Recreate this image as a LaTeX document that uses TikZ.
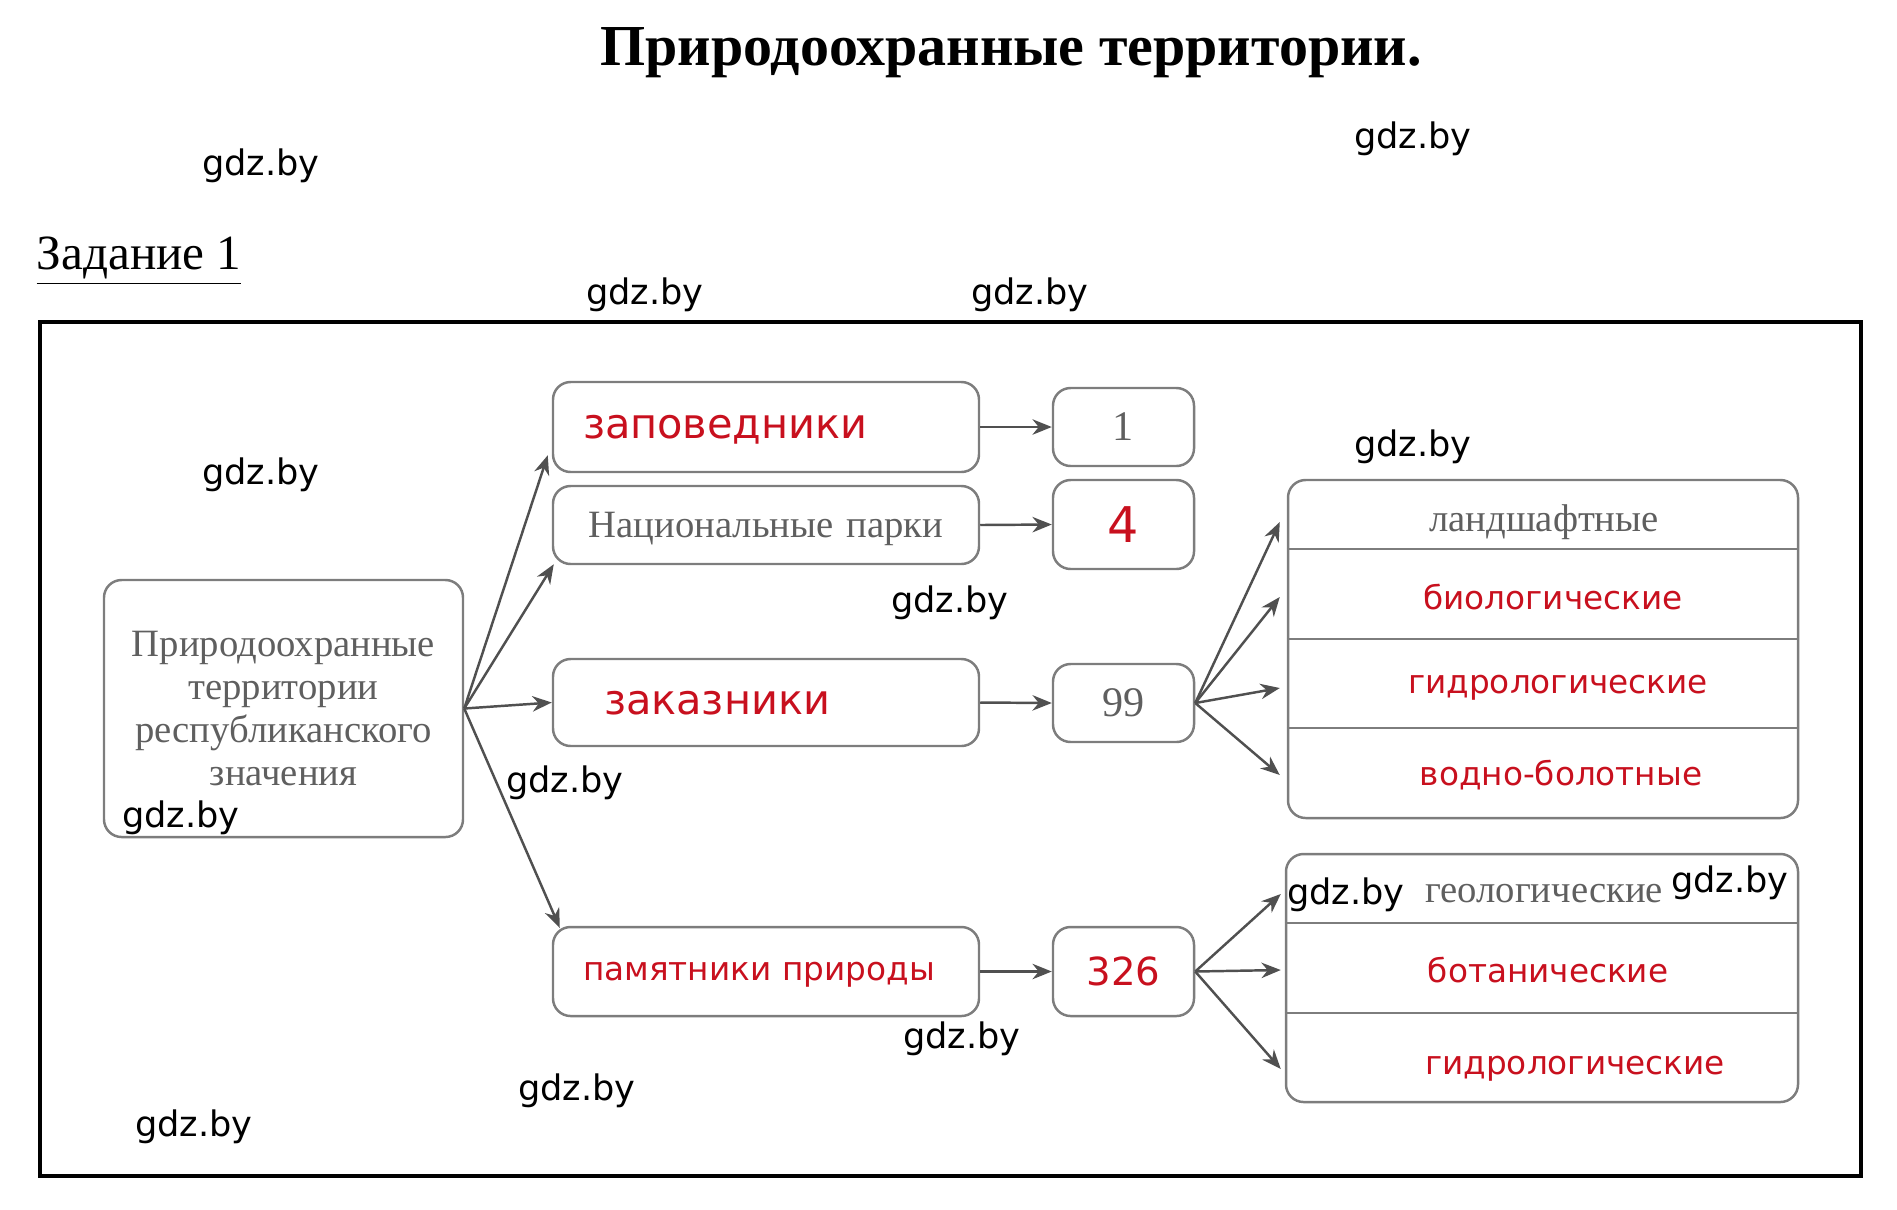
\documentclass[tikz,border=0pt]{standalone}
\usepackage{fontspec}
\setmainfont{Liberation Serif}
\newfontfamily\verdsans{DejaVu Sans}
\definecolor{resred}{RGB}{200, 16, 30}
\definecolor{boxgray}{RGB}{125, 125, 125}
\definecolor{txtgray}{RGB}{95, 95, 95}
\definecolor{arrgray}{RGB}{80, 80, 80}
\usetikzlibrary{arrows.meta, positioning, calc}

\begin{document}
\begin{tikzpicture}[
  box/.style={draw=boxgray, line width=0.7pt, rounded corners=5pt},
  catbox/.style={box, minimum width=4.26cm, inner xsep=0.3cm, text width=3.66cm, align=left, text depth=0pt},
  numbox/.style={box, minimum width=1.41cm},
  arr/.style={-{Stealth[length=5.5pt, width=4.4pt]}, arrgray, line width=0.7pt},
  redtxt/.style={text=resred},
  graytxt/.style={text=txtgray},
  wm/.style={font=\verdsans\fontsize{10}{12}\selectfont, text=black}
]
  \useasboundingbox (0,0) rectangle (18.97,-12.09);

  % Heading
  \node[font=\bfseries\fontsize{16.5}{20}\selectfont] (title) at (10.11,-0.53) {Природоохранные территории.};
  \node[anchor=base west, font=\fontsize{14}{17}\selectfont, inner sep=0pt] (task) at (0.36,-2.69) {\underline{Задание 1}};

  % Frame
  \draw[line width=0.9pt] (0.40,-3.22) rectangle (18.61,-11.76);

  % Root
  \node[box, graytxt, minimum width=3.59cm, minimum height=2.57cm, align=center,
        font=\fontsize{11}{12.3}\selectfont] (root) at (2.835,-7.085)
    {Природоохранные\\территории\\республиканского\\значения};

  % Categories
  \node[catbox, redtxt, minimum height=0.90cm, font=\verdsans\fontsize{11.8}{14}\selectfont] (zap) at (7.66,-4.27) {заповедники};
  \node[catbox, graytxt, minimum height=0.78cm, align=center, font=\fontsize{11}{13}\selectfont] (nat) at (7.66,-5.25) {Национальные парки};
  \node[catbox, redtxt, minimum height=0.87cm, inner xsep=0.51cm, text width=3.24cm, font=\verdsans\fontsize{11.8}{14}\selectfont] (zak) at (7.66,-7.025) {заказники};
  \node[catbox, redtxt, minimum height=0.89cm, font=\verdsans\fontsize{9.3}{11}\selectfont] (pam) at (7.66,-9.715) {памятники природы};

  % Counts
  \node[numbox, graytxt, minimum height=0.78cm, font=\fontsize{12}{14}\selectfont] (n1) at (11.235,-4.27) {1};
  \node[numbox, redtxt, minimum height=0.89cm, font=\verdsans\fontsize{14}{16}\selectfont] (n4) at (11.235,-5.245) {4};
  \node[numbox, graytxt, minimum height=0.78cm, font=\fontsize{12}{14}\selectfont] (n99) at (11.235,-7.03) {99};
  \node[numbox, redtxt, minimum height=0.89cm, font=\verdsans\fontsize{11}{13}\selectfont] (n326) at (11.235,-9.715) {326};

  % Kinds of zakazniki
  \node[box, minimum width=5.10cm, minimum height=3.38cm] (kinds) at (15.43,-6.49) {};
  \draw[boxgray, line width=0.7pt] (kinds.west |- 0,-5.49) -- (kinds.east |- 0,-5.49);
  \draw[boxgray, line width=0.7pt] (kinds.west |- 0,-6.39) -- (kinds.east |- 0,-6.39);
  \draw[boxgray, line width=0.7pt] (kinds.west |- 0,-7.28) -- (kinds.east |- 0,-7.28);
  \node[graytxt, font=\fontsize{11}{13}\selectfont] (k1) at (15.44,-5.22) {ландшафтные};
  \node[redtxt, font=\verdsans\fontsize{9.3}{11}\selectfont] (k2) at (15.53,-5.97) {биологические};
  \node[redtxt, font=\verdsans\fontsize{9.3}{11}\selectfont] (k3) at (15.58,-6.88) {гидрологические};
  \node[redtxt, font=\verdsans\fontsize{9.3}{11}\selectfont] (k4) at (15.61,-7.75) {водно-болотные};

  % Kinds of monuments
  \node[box, minimum width=5.12cm, minimum height=2.48cm] (mons) at (15.42,-9.78) {};
  \draw[boxgray, line width=0.7pt] (mons.west |- 0,-9.23) -- (mons.east |- 0,-9.23);
  \draw[boxgray, line width=0.7pt] (mons.west |- 0,-10.13) -- (mons.east |- 0,-10.13);
  \node[graytxt, font=\fontsize{11}{13}\selectfont] (m1) at (15.44,-8.94) {геологические};
  \node[redtxt, font=\verdsans\fontsize{9.3}{11}\selectfont] (m2) at (15.48,-9.70) {ботанические};
  \node[redtxt, font=\verdsans\fontsize{9.3}{11}\selectfont] (m3) at (15.75,-10.69) {гидрологические};

  % Arrows from root
  \draw[arr] (root.east) -- ([shift={(-0.04,0.18)}]zap.south west);
  \draw[arr] (root.east) -- ([shift={(0.02,0.01)}]nat.south west);
  \draw[arr] (root.east) -- (zak.west);
  \draw[arr] (root.east) -- ([shift={(0.08,-0.02)}]pam.north west);

  % Arrows to counts
  \draw[arr] (zap.east) -- (n1.west);
  \draw[arr] (nat.east) -- (n4.west);
  \draw[arr] (zak.east) -- (n99.west);
  \draw[arr] (pam.east) -- (n326.west);

  % Arrows to kinds
  \draw[arr] (n99.east) -- ([xshift=-0.07cm]kinds.west |- k1);
  \draw[arr] (n99.east) -- ([xshift=-0.07cm]kinds.west |- k2);
  \draw[arr] (n99.east) -- ([xshift=-0.07cm]kinds.west |- k3);
  \draw[arr] (n99.east) -- ([xshift=-0.07cm]kinds.west |- k4);
  \draw[arr] (n326.east) -- ([xshift=-0.04cm]mons.west |- m1);
  \draw[arr] (n326.east) -- ([xshift=-0.04cm]mons.west |- m2);
  \draw[arr] (n326.east) -- ([xshift=-0.04cm]mons.west |- m3);

  % Watermarks
  \node[wm] (wm1) at (2.61,-1.66) {gdz.by};
  \node[wm] (wm2) at (14.13,-1.39) {gdz.by};
  \node[wm] (wm3) at (6.45,-2.95) {gdz.by};
  \node[wm] (wm4) at (10.30,-2.95) {gdz.by};
  \node[wm] (wm5) at (2.61,-4.75) {gdz.by};
  \node[wm] (wm6) at (14.13,-4.47) {gdz.by};
  \node[wm] (wm7) at (9.50,-6.03) {gdz.by};
  \node[wm] (wm8) at (1.81,-8.18) {gdz.by};
  \node[wm] (wm9) at (5.65,-7.83) {gdz.by};
  \node[wm] (wm10) at (13.46,-8.95) {gdz.by};
  \node[wm] (wm11) at (17.30,-8.83) {gdz.by};
  \node[wm] (wm12) at (9.62,-10.39) {gdz.by};
  \node[wm] (wm13) at (5.77,-10.91) {gdz.by};
  \node[wm] (wm14) at (1.94,-11.27) {gdz.by};
\end{tikzpicture}
\end{document}
